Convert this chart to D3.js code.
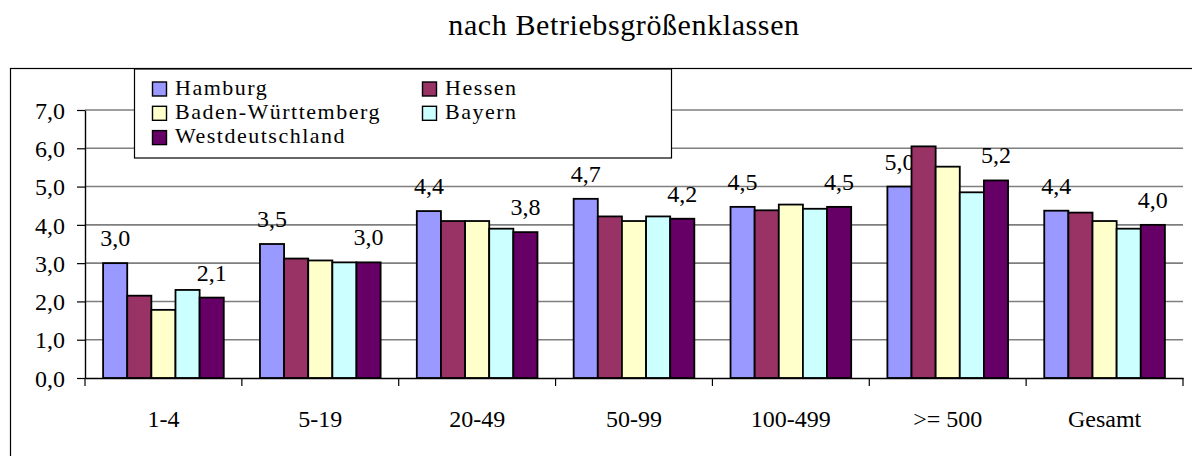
<!DOCTYPE html>
<html><head><meta charset="utf-8">
<script src="https://cdn.jsdelivr.net/npm/d3@7"></script>
<style>body{margin:0;background:#fff;}svg{display:block;}</style>
</head><body>
<script>
const categories = ["1-4","5-19","20-49","50-99","100-499",">= 500","Gesamt"];
const seriesNames = ["Hamburg","Hessen","Baden-Württemberg","Bayern","Westdeutschland"];
const hamburg = [3.0,3.5,4.36,4.68,4.47,5.0,4.37];
const hessen = [2.15,3.12,4.1,4.22,4.38,6.05,4.32];
const baden = [1.78,3.07,4.1,4.1,4.53,5.52,4.1];
const bayern = [2.3,3.02,3.9,4.22,4.42,4.85,3.9];
const west = [2.1,3.02,3.81,4.16,4.47,5.16,4.0];
const colors = ["#9999FF","#993366","#FFFFCC","#CCFFFF","#660066"];
const yTicks = [0,1,2,3,4,5,6,7];
const labeled = [0,4];

const values = [hamburg, hessen, baden, bayern, west];
const W = 1192, H = 456;
const svg = d3.select("body").append("svg").attr("width", W).attr("height", H);
const font = "'Liberation Serif', serif";
const fmt = d => d3.format(".1f")(d).replace(".", ",");

svg.append("text").attr("x", 624).attr("y", 35).attr("text-anchor","middle")
  .style("font-family", font).style("font-size","30px").style("letter-spacing","0.6px")
  .text("nach Betriebsgrößenklassen");

svg.append("rect").attr("x", 10.5).attr("y", 68.5).attr("width", 1200).attr("height", 420)
  .attr("fill","none").attr("stroke","#000").attr("stroke-width",1.2);

const x0 = 85, x1 = 1183, yBase = 378, yTop = 110;
const x = d3.scaleBand().domain(categories).range([x0, x1]).paddingInner(0).paddingOuter(0);
const y = d3.scaleLinear().domain([0,7]).range([yBase, yTop]);
const gapRatio = 1.5;
const bw = x.bandwidth() / (seriesNames.length + gapRatio);

// gridlines
svg.append("g").selectAll("line").data(yTicks.filter(d=>d>0)).join("line")
  .attr("x1", x0).attr("x2", x1).attr("y1", d=>y(d)).attr("y2", d=>y(d))
  .attr("stroke","#7f7f7f").attr("stroke-width",1.6);

// y axis
const yAxis = d3.axisLeft(y).tickValues(yTicks).tickSize(8).tickSizeOuter(0).tickFormat(fmt);
const gy = svg.append("g").attr("transform", `translate(${x0},0)`).call(yAxis);
gy.attr("font-family", null);
gy.select(".domain").attr("stroke","#000").attr("stroke-width",1.4);
gy.selectAll(".tick line").attr("stroke","#000").attr("stroke-width",1.2);
gy.selectAll("text").style("font-family", font).style("font-size","24px")
  .attr("fill","#000").attr("x",-20).attr("dy","0.34em");

// bars
categories.forEach((c, ci) => {
  values.forEach((vals, si) => {
    const bx = x(c) + bw*gapRatio/2 + si*bw;
    svg.append("rect").attr("x", bx).attr("y", y(vals[ci])).attr("width", bw).attr("height", yBase - y(vals[ci]))
      .attr("fill", colors[si]).attr("stroke","#000").attr("stroke-width",1.8);
    if (labeled.includes(si)) {
      svg.append("text").attr("x", bx + bw/2).attr("y", y(vals[ci]) - 17).attr("text-anchor","middle")
        .style("font-family", font).style("font-size","24px")
        .text(fmt(vals[ci]));
    }
  });
});

// x axis
const xTickPos = categories.map(c => x(c)).concat([x1]);
const xAxis = d3.axisBottom(x).tickSize(0).tickSizeOuter(0).tickPadding(0);
const gx = svg.append("g").attr("transform", `translate(0,${yBase})`).call(xAxis);
gx.attr("font-family", null);
gx.select(".domain").attr("stroke","#000").attr("stroke-width",1.4);
gx.selectAll("text").style("font-family", font).style("font-size","24px")
  .attr("fill","#000").attr("y", 49).attr("dy", 0);
svg.append("g").selectAll("line").data(xTickPos).join("line")
  .attr("x1", d=>d).attr("x2", d=>d).attr("y1", yBase).attr("y2", yBase+8)
  .attr("stroke","#000").attr("stroke-width",1.2);

// legend
const lg = svg.append("g");
lg.append("rect").attr("x", 134.5).attr("y", 69).attr("width", 537).attr("height", 89)
  .attr("fill","#fff").attr("stroke","#000").attr("stroke-width",1.2);
const pos = [[152,94.5],[422,94.5],[152,118.8],[422,118.8],[152,143.1]];
seriesNames.forEach((n, i) => {
  const [lx, ly] = pos[i];
  lg.append("rect").attr("x", lx+0.5).attr("y", ly-12.5).attr("width", 14).attr("height", 14)
    .attr("fill", colors[i]).attr("stroke","#000").attr("stroke-width",1.4);
  lg.append("text").attr("x", lx+23).attr("y", ly)
    .style("font-family", font).style("font-size","22px").style("letter-spacing","1.5px").text(n);
});
</script>
</body></html>
